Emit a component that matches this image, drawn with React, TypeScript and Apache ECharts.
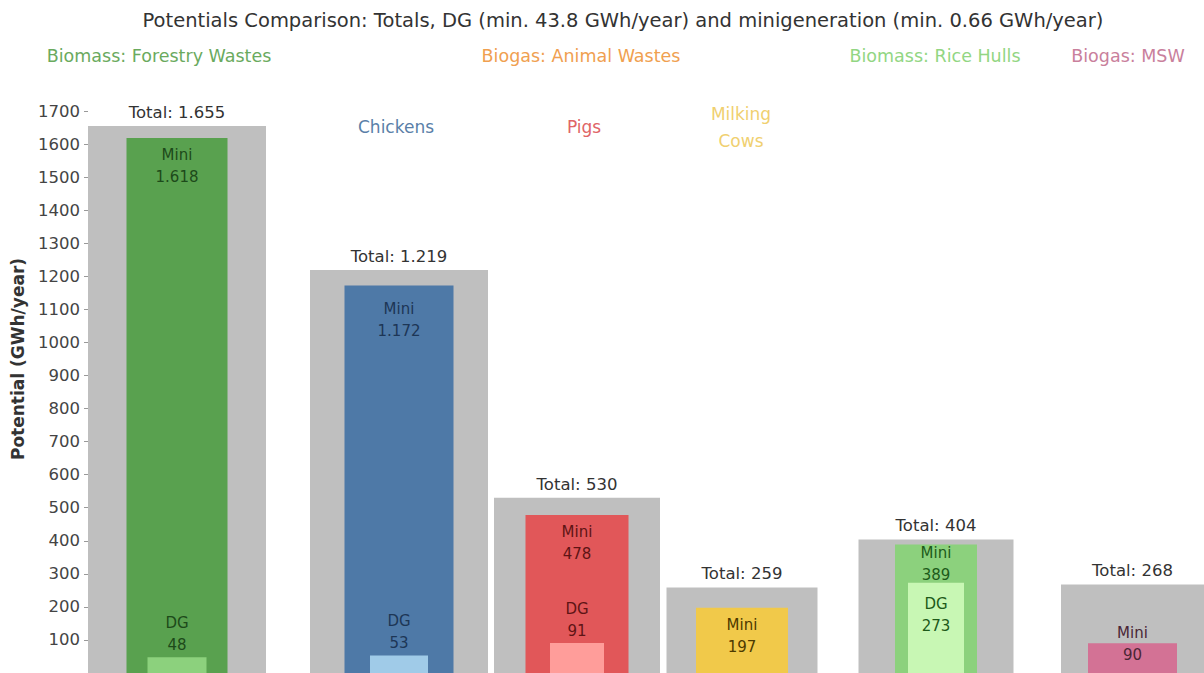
import React, { useEffect, useRef } from "react";
import * as echarts from "echarts";

// ---- data ----
const categories = ["Forestry Wastes", "Chickens", "Pigs", "Milking Cows", "Rice Hulls", "MSW"];
const totalValues = [1655, 1219, 530, 259, 404, 268];
const miniValues = [1618, 1172, 478, 197, 389, 90];
const dgValues: (number | null)[] = [48, 53, 91, null, 273, null];
const yMin = 0;
const yMax = 1700;
const yInterval = 100;

const titleText =
  "Potentials Comparison: Totals, DG (min. 43.8 GWh/year) and minigeneration (min. 0.66 GWh/year)";
const groupHeaders = ["Biomass: Forestry Wastes", "Biogas: Animal Wastes", "Biomass: Rice Hulls", "Biogas: MSW"];
const subHeaders = ["Chickens", "Pigs", "Milking\nCows"];
const yAxisTitle = "Potential (GWh/year)";

// ---- layout / style ----
const paneCenter = [177, 399, 577, 742, 936, 1134];
const totalWidth = [178, 178, 166, 151, 155, 146];
const miniWidth = [101, 109, 103, 92, 82, 89];
const dgWidth = [59, 58, 54, 0, 56, 0];
const miniColors = ["#59a14f", "#4e79a7", "#e15759", "#f1c94a", "#8cd17d", "#d37295"];
const dgColors = ["#8cd17d", "#a0cbe8", "#ff9d9a", "#ffffff", "#c8f7b4", "#ffffff"];
const labelColors = ["#1d4a1a", "#1d3656", "#5e1415", "#4d3a00", "#1d5a1a", "#4a2636"];
const miniLabelShift = [0, 6, 0, 0, -8, -27];
const dgLabelInside = [false, false, false, false, true, false];
const groupHeaderX = [159, 581, 935, 1128];
const groupHeaderColors = ["#6aaa5e", "#f0a050", "#92d683", "#c9809c"];
const subHeaderX = [396, 584, 741];
const subHeaderY = [127, 127, 127];
const subHeaderColors = ["#5a7fa8", "#e06466", "#f0d070"];
const gridTop = 111;
const gridHeight = 566;
const FONT = "DejaVu Sans";

const fmt = (v: number) => String(v).replace(/\B(?=(\d{3})+(?!\d))/g, ".");

export default function App() {
  const ref = useRef<HTMLDivElement>(null);
  useEffect(() => {
    document.body.style.margin = "0";
    if (!ref.current) return;
    const chart = echarts.init(ref.current, undefined, { renderer: "svg" });

    const grids: any[] = [];
    const xAxes: any[] = [];
    const yAxes: any[] = [];
    const series: any[] = [];

    categories.forEach((cat, i) => {
      grids.push({
        left: paneCenter[i] - totalWidth[i] / 2,
        width: totalWidth[i],
        top: gridTop,
        height: gridHeight,
      });
      for (let k = 0; k < 3; k++) {
        xAxes.push({ type: "category", gridIndex: i, data: [cat], show: false });
      }
      yAxes.push({
        type: "value",
        gridIndex: i,
        min: yMin,
        max: yMax,
        interval: yInterval,
        show: i === 0,
        splitLine: { show: false },
        axisLine: { show: false },
        axisTick: { show: true, length: 4, lineStyle: { color: "#999" } },
        axisLabel: {
          showMinLabel: false,
          margin: 8,
          fontSize: 16.5,
          fontFamily: FONT,
          color: "#444",
          formatter: (v: number) => String(v),
        },
      });
      series.push({
        type: "bar",
        name: "Total",
        xAxisIndex: i * 3,
        yAxisIndex: i,
        data: [totalValues[i]],
        barWidth: totalWidth[i],
        itemStyle: { color: "#bfbfbf" },
        label: {
          show: true,
          position: "top",
          distance: 5,
          formatter: (p: any) => `Total: ${fmt(p.value)}`,
          fontSize: 16.5,
          fontFamily: FONT,
          color: "#333",
        },
      });
      series.push({
        type: "bar",
        name: "Mini",
        xAxisIndex: i * 3 + 1,
        yAxisIndex: i,
        data: [{ value: miniValues[i], label: { offset: [0, miniLabelShift[i]] } }],
        barWidth: miniWidth[i],
        itemStyle: { color: miniColors[i] },
        label: {
          show: true,
          position: "insideTop",
          distance: 6,
          formatter: (p: any) => `Mini\n${fmt(p.value)}`,
          fontSize: 15,
          lineHeight: 22,
          fontFamily: FONT,
          color: labelColors[i],
        },
      });
      if (dgValues[i] != null) {
        series.push({
          type: "bar",
          name: "DG",
          xAxisIndex: i * 3 + 2,
          yAxisIndex: i,
          data: [dgValues[i]],
          barWidth: dgWidth[i],
          itemStyle: { color: dgColors[i] },
          label: {
            show: true,
            position: dgLabelInside[i] ? "insideTop" : "top",
            distance: dgLabelInside[i] ? 10 : 1,
            formatter: (p: any) => `DG\n${fmt(p.value)}`,
            fontSize: 15,
            lineHeight: 22,
            fontFamily: FONT,
            color: labelColors[i],
          },
        });
      }
    });

    const graphics: any[] = [
      {
        type: "text",
        x: 623,
        y: 20,
        style: {
          text: titleText,
          align: "center",
          verticalAlign: "middle",
          fontSize: 19.5,
          fontFamily: FONT,
          fill: "#333",
        },
      },
      {
        type: "text",
        x: 18,
        y: 359,
        rotation: Math.PI / 2,
        style: {
          text: yAxisTitle,
          align: "center",
          verticalAlign: "middle",
          fontSize: 17,
          fontWeight: "bold",
          fontFamily: FONT,
          fill: "#333",
        },
      },
    ];
    groupHeaders.forEach((h, i) => {
      graphics.push({
        type: "text",
        x: groupHeaderX[i],
        y: 56,
        style: {
          text: h,
          align: "center",
          verticalAlign: "middle",
          fontSize: 17.5,
          fontFamily: FONT,
          fill: groupHeaderColors[i],
        },
      });
    });
    subHeaders.forEach((h, i) => {
      graphics.push({
        type: "text",
        x: subHeaderX[i],
        y: subHeaderY[i],
        style: {
          text: h,
          align: "center",
          verticalAlign: "middle",
          fontSize: 17,
          lineHeight: 27,
          fontFamily: FONT,
          fill: subHeaderColors[i],
        },
      });
    });

    chart.setOption({
      animation: false,
      backgroundColor: "#ffffff",
      grid: grids,
      xAxis: xAxes,
      yAxis: yAxes,
      series,
      graphic: graphics,
    });
    return () => chart.dispose();
  }, []);
  return <div ref={ref} style={{ width: 1204, height: 673 }} />;
}
